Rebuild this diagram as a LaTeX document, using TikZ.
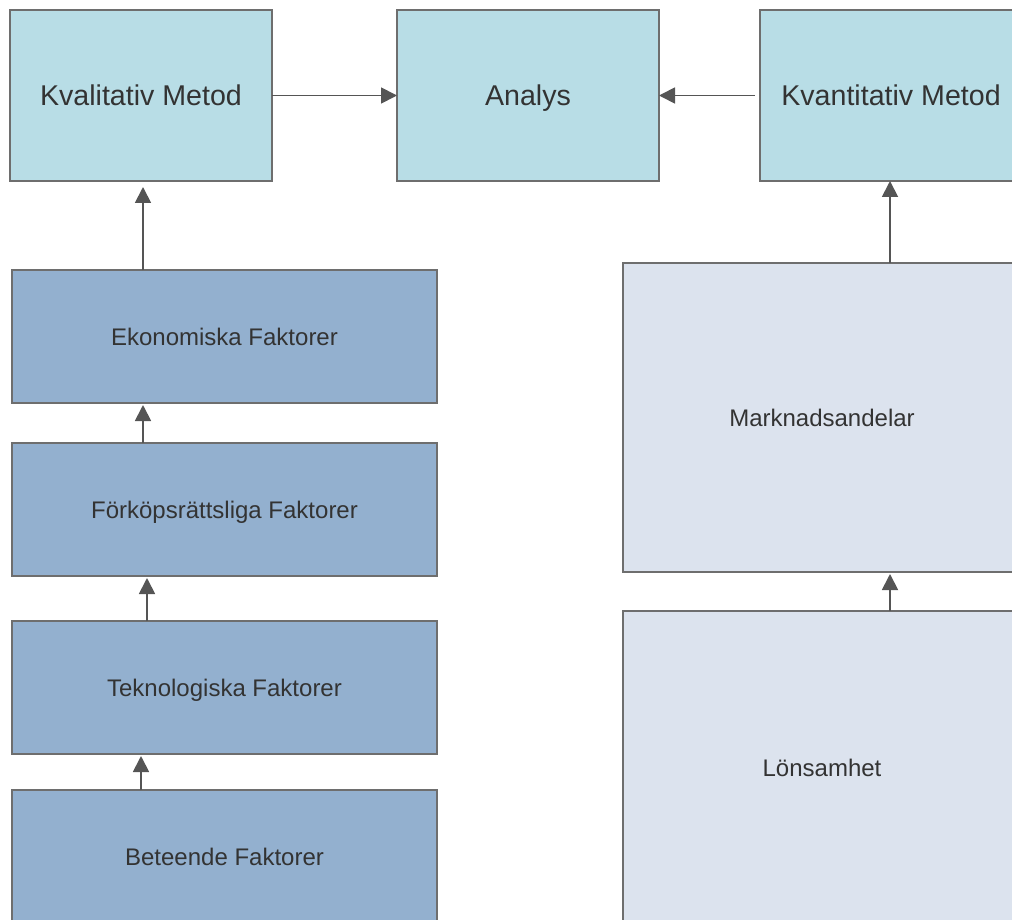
\documentclass[tikz,border=0pt]{standalone}
\usepackage{fontspec}
\setmainfont{Liberation Sans}
\usepackage{tikz}
\usetikzlibrary{arrows.meta,positioning}

\definecolor{methodfill}{HTML}{B8DDE6}
\definecolor{factorfill}{HTML}{93B0CF}
\definecolor{resultfill}{HTML}{DCE3EE}
\definecolor{boxline}{HTML}{6E6E6E}
\definecolor{arrowgray}{HTML}{555555}
\definecolor{textgray}{HTML}{333333}

\begin{document}
\begin{tikzpicture}[
    method/.style={rectangle, draw=boxline, line width=1.6pt, fill=methodfill, outer sep=0pt, minimum width=262pt, minimum height=171pt, text=textgray, text height=21pt, text depth=0pt, font=\fontsize{28.6}{34}\selectfont},
    factor/.style={rectangle, draw=boxline, line width=1.6pt, fill=factorfill, outer sep=0pt, minimum width=425pt, minimum height=133pt, text=textgray, text height=17.6pt, text depth=0pt, font=\fontsize{24}{29}\selectfont},
    result/.style={rectangle, draw=boxline, line width=1.6pt, fill=resultfill, outer sep=0pt, minimum width=398pt, text=textgray, text height=17.6pt, text depth=0pt, font=\fontsize{24}{29}\selectfont},
    arrow/.style={-{Triangle[width=16pt,length=16pt]}, line width=1.8pt, arrowgray, shorten >=2pt}
]

\useasboundingbox (0pt,0pt) rectangle (1012pt,-920pt);
\clip (0pt,0pt) rectangle (1012pt,-920pt);

% Methods row
\node[method] (kval) at (141pt,-95.5pt) {Kvalitativ Metod};
\node[method, right=125pt of kval] (analys) {Analys};
\node[method, right=101pt of analys] (kvant) {Kvantitativ Metod};

% Factors (left column)
\node[factor, below right=89pt and 2pt of kval.south west] (ekon) {Ekonomiska Faktorer};
\node[factor, below=40pt of ekon] (forkop) {Förköpsrättsliga Faktorer};
\node[factor, below=45pt of forkop] (tekno) {Teknologiska Faktorer};
\node[factor, below=36pt of tekno] (beteende) {Beteende Faktorer};

% Results (right column)
\node[result, minimum height=309pt, below=82pt of kvant, xshift=-69pt] (markn) {Marknadsandelar};
\node[result, minimum height=314pt, below=39pt of markn] (lons) {Lönsamhet};

% Arrows to Analys
\draw[arrow, shorten >=0pt] (kval.east) -- (kval.east -| analys.west);
\draw[arrow, shorten >=0pt, shorten <=5pt] (kvant.west) -- (kvant.west -| analys.east);

% Left chain
\draw[arrow, shorten >=6pt] ([xshift=2pt]kval.south |- ekon.north) -- ([xshift=2pt]kval.south);
\draw[arrow] ([xshift=2pt]kval.south |- forkop.north) -- ([xshift=2pt]kval.south |- ekon.south);
\draw[arrow] ([xshift=6pt]kval.south |- tekno.north) -- ([xshift=6pt]kval.south |- forkop.south);
\draw[arrow] (kval.south |- beteende.north) -- (kval.south |- tekno.south);

% Right chain
\draw[arrow] ([xshift=-1pt]kvant.south |- lons.north) -- ([xshift=-1pt]kvant.south |- markn.south);
\draw[arrow, shorten >=0pt] ([xshift=-1pt]kvant.south |- markn.north) -- ([xshift=-1pt]kvant.south);

\end{tikzpicture}
\end{document}
